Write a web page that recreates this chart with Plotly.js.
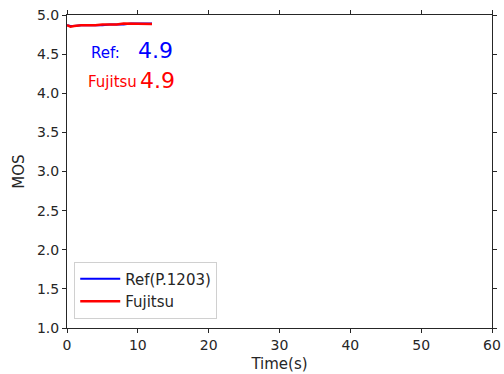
<!DOCTYPE html>
<html><head><meta charset="utf-8">
<script src="https://cdn.plot.ly/plotly-3.0.1.min.js"></script>
<style>html,body{margin:0;padding:0;background:#fff}</style>
</head><body><div id="c" style="width:504px;height:374px"></div>
<script>
const refTime = [0, 0.5, 1, 2, 3, 4, 5, 6, 7, 8, 9, 10, 11, 12];
const refMOS  = [4.87, 4.86, 4.86, 4.87, 4.87, 4.87, 4.87, 4.88, 4.88, 4.88, 4.89, 4.89, 4.89, 4.89];
const fujTime = [0, 0.5, 1, 2, 3, 4, 5, 6, 7, 8, 9, 10, 11, 12];
const fujMOS  = [4.87, 4.85, 4.86, 4.87, 4.87, 4.87, 4.88, 4.88, 4.88, 4.89, 4.89, 4.89, 4.89, 4.885];
const refLabel = "Ref(P.1203)";
const fujLabel = "Fujitsu";
const refScore = "4.9";
const fujScore = "4.9";

const font = "DejaVu Sans, sans-serif";
const data = [
  {x: refTime, y: refMOS, mode: "lines", name: refLabel, line: {color: "#0000ff", width: 2}},
  {x: fujTime, y: fujMOS, mode: "lines", name: fujLabel, line: {color: "#ff0000", width: 2.5}}
];
const layout = {
  width: 504, height: 374,
  margin: {l: 67, r: 12, t: 15, b: 46},
  paper_bgcolor: "#fff", plot_bgcolor: "#fff",
  font: {family: font, size: 14, color: "#262626"},
  showlegend: true,
  legend: {x: 0.017, y: 0.03, xanchor: "left", yanchor: "bottom",
    bordercolor: "#d0d0d0", borderwidth: 1, bgcolor: "rgba(255,255,255,0.8)",
    itemwidth: 40, tracegroupgap: 0,
    font: {family: font, size: 15, color: "#262626"}},
  xaxis: {range: [0, 60], dtick: 10, showgrid: false, zeroline: false,
    showline: true, linecolor: "#262626", linewidth: 1, mirror: "ticks",
    ticks: "outside", ticklen: 4, tickcolor: "#262626",
    tickfont: {size: 14}, title: {text: "Time(s)", font: {size: 15}, standoff: 6}},
  yaxis: {range: [1, 5], dtick: 0.5, tickformat: ".1f", showgrid: false, zeroline: false,
    showline: true, linecolor: "#262626", linewidth: 1, mirror: "ticks",
    ticks: "outside", ticklen: 4, tickcolor: "#262626",
    tickfont: {size: 14}, title: {text: "MOS", font: {size: 15}, standoff: 8}},
  annotations: [
    {xref: "paper", yref: "paper", x: 0.052, y: 0.88, xanchor: "left", yanchor: "middle",
     text: "Ref:", showarrow: false, font: {family: font, size: 15, color: "#0000ff"}},
    {xref: "paper", yref: "paper", x: 0.163, y: 0.885, xanchor: "left", yanchor: "middle",
     text: refScore, showarrow: false, font: {family: font, size: 22, color: "#0000ff"}},
    {xref: "paper", yref: "paper", x: 0.045, y: 0.785, xanchor: "left", yanchor: "middle",
     text: "Fujitsu", showarrow: false, font: {family: font, size: 15, color: "#ff0000"}},
    {xref: "paper", yref: "paper", x: 0.168, y: 0.79, xanchor: "left", yanchor: "middle",
     text: fujScore, showarrow: false, font: {family: font, size: 22, color: "#ff0000"}}
  ]
};
Plotly.newPlot("c", data, layout, {displayModeBar: false, staticPlot: true});
</script></body></html>
